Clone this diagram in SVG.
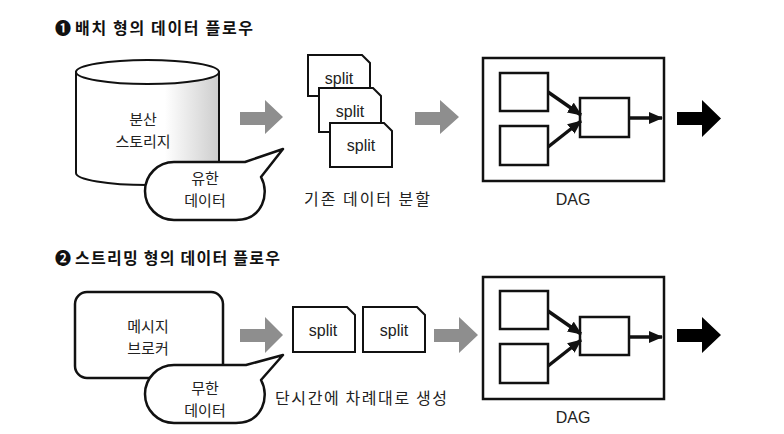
<svg xmlns="http://www.w3.org/2000/svg" width="784" height="434" viewBox="0 0 784 434">
<defs>
<linearGradient id="cyl" x1="0" y1="0" x2="1" y2="0">
<stop offset="0" stop-color="#ffffff"/>
<stop offset="0.62" stop-color="#ffffff"/>
<stop offset="1" stop-color="#cdcdcd"/>
</linearGradient>
<marker id="ah" markerUnits="userSpaceOnUse" markerWidth="14" markerHeight="12" refX="13" refY="6" orient="auto">
<path d="M0,0 L14,6 L0,12 Z" fill="#111"/>
</marker>
<style>
.t{font-family:"Noto Sans CJK KR","Liberation Sans",sans-serif;font-size:16px;fill:#222;text-anchor:middle}
.m{font-family:"Noto Sans CJK KR","Liberation Sans",sans-serif;font-size:15px;fill:#222;text-anchor:middle}
.h{font-family:"Noto Sans CJK KR","Liberation Sans",sans-serif;font-size:16px;font-weight:700;fill:#111}
.l{font-family:"Liberation Sans",Arial,sans-serif;font-size:16px;fill:#222;text-anchor:middle}
.s{fill:#fff;stroke:#111;stroke-width:2;stroke-linejoin:miter}
.b{fill:#fff;stroke:#111;stroke-width:2.5}
.g{fill:#8e8e8e}
.k{fill:#000}
.c{stroke:#111;stroke-width:3.5;fill:none;marker-end:url(#ah)}
</style>
</defs>
<rect width="784" height="434" fill="#fff"/>

<g id="title1">
<text class="h" x="55" y="34">❶</text>
<text class="h" x="75" y="34" textLength="178" lengthAdjust="spacing">배치 형의 데이터 플로우</text>
</g>

<g id="storage">
<path d="M76,72 V173 A71.5,12 0 0 0 219,173 V72 Z" fill="url(#cyl)" stroke="#111" stroke-width="2"/>
<ellipse cx="147.5" cy="72" rx="71.5" ry="12" fill="#fff" stroke="#111" stroke-width="2"/>
<text class="m" x="143" y="125">분산</text>
<text class="m" x="143" y="147">스토리지</text>
</g>

<g id="bubble1">
<path d="M174,162 H245 L283,149 L261,177 C270,193 263,220 236,220 H174 A29,29 0 0 1 174,162 Z" fill="#fff" stroke="#111" stroke-width="2.5" stroke-linejoin="round"/>
<text class="m" x="205" y="184">유한</text>
<text class="m" x="205" y="206">데이터</text>
</g>

<g id="splits1">
<path class="s" d="M308,55 H362 L370,63 V96 H308 Z"/>
<text class="l" x="339" y="84">split</text>
<path class="s" d="M319,88 H373 L381,96 V132 H319 Z"/>
<text class="l" x="350" y="117">split</text>
<path class="s" d="M330,123 H384 L392,131 V167 H330 Z"/>
<text class="l" x="361" y="151">split</text>
<text class="t" x="367" y="205" textLength="126" lengthAdjust="spacing">기존 데이터 분할</text>
</g>

<g id="dag1">
<rect class="b" x="483" y="58" width="181" height="123"/>
<rect class="b" x="500" y="73" width="48" height="38"/>
<rect class="b" x="500" y="126" width="48" height="39"/>
<rect class="b" x="580" y="98" width="49" height="39"/>
<text class="l" x="573" y="205">DAG</text>
</g>

<g id="title2">
<text class="h" x="55" y="264">❷</text>
<text class="h" x="75" y="264" textLength="205" lengthAdjust="spacing">스트리밍 형의 데이터 플로우</text>
</g>

<g id="broker">
<rect class="b" x="75" y="292" width="148" height="86" rx="12"/>
<text class="m" x="148" y="332">메시지</text>
<text class="m" x="148" y="354">브로커</text>
</g>

<g id="bubble2">
<path d="M174,365 H246 L283,355 L261,380 C270,396 263,423 236,423 H174 A29,29 0 0 1 174,365 Z" fill="#fff" stroke="#111" stroke-width="2.5" stroke-linejoin="round"/>
<text class="m" x="205" y="394">무한</text>
<text class="m" x="205" y="416">데이터</text>
</g>

<g id="splits2">
<path class="s" d="M293,307 H347 L355,315 V352 H293 Z"/>
<text class="l" x="323" y="336">split</text>
<path class="s" d="M363,307 H417 L425,315 V352 H363 Z"/>
<text class="l" x="394" y="336">split</text>
<text class="t" x="361" y="404" textLength="172" lengthAdjust="spacing">단시간에 차례대로 생성</text>
</g>

<g id="dag2">
<rect class="b" x="483" y="277" width="181" height="122"/>
<rect class="b" x="500" y="291" width="48" height="38"/>
<rect class="b" x="500" y="344" width="48" height="39"/>
<rect class="b" x="580" y="317" width="49" height="38"/>
<text class="l" x="573" y="423">DAG</text>
</g>

<g id="connectors">
<polygon class="g" points="240,112 265,112 265,100 283,117 265,134 265,125 240,125"/>
<polygon class="g" points="415,112 440,112 440,100 459,117 440,134 440,125 415,125"/>
<polygon class="g" points="240,329 265,329 265,317 283,335 265,353 265,342 240,342"/>
<polygon class="g" points="434,329 459,329 459,317 478,335 459,353 459,342 434,342"/>
<polygon class="k" points="677,112 702,112 702,100 721,118.5 702,137 702,125 677,125"/>
<polygon class="k" points="677,329 702,329 702,317 721,335 702,353 702,342 677,342"/>
<line class="c" x1="548" y1="92" x2="581" y2="115"/>
<line class="c" x1="548" y1="147" x2="581" y2="121"/>
<line class="c" x1="629" y1="118" x2="662" y2="118"/>
<line class="c" x1="548" y1="311" x2="581" y2="334"/>
<line class="c" x1="548" y1="366" x2="581" y2="340"/>
<line class="c" x1="629" y1="337" x2="662" y2="337"/>
</g>
</svg>
